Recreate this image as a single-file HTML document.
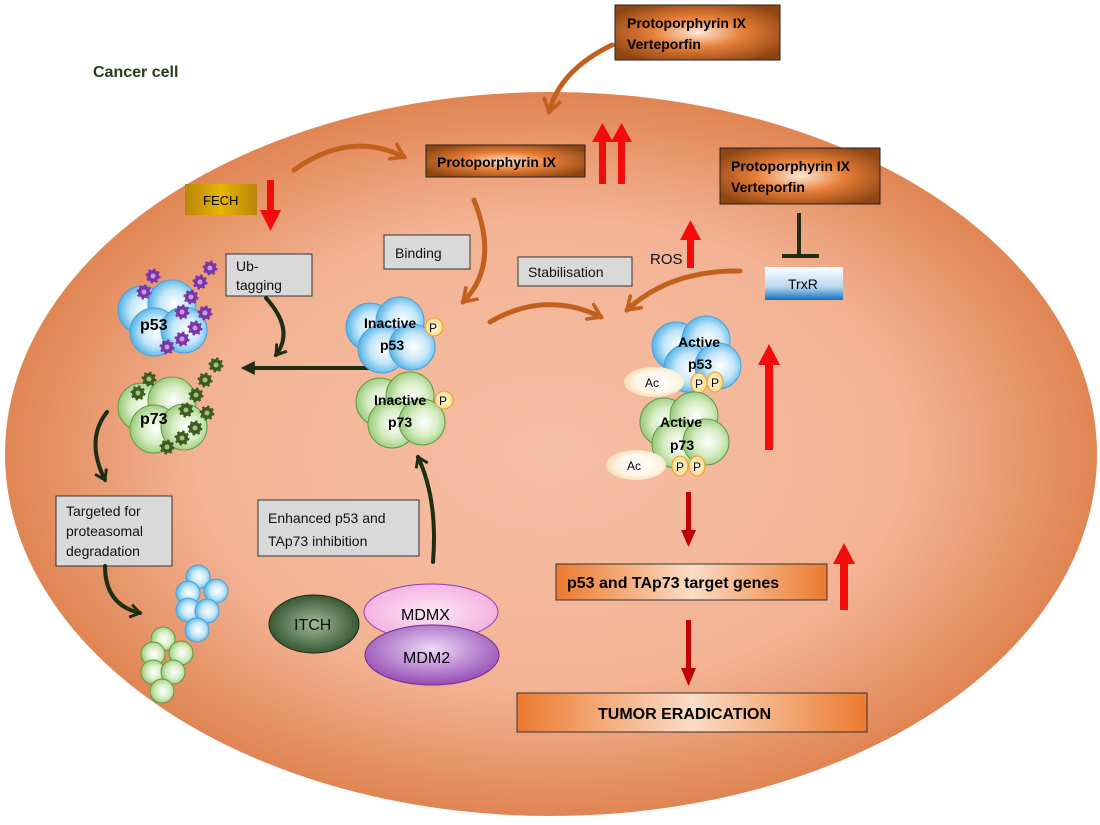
<!DOCTYPE html>
<html><head><meta charset="utf-8"><style>
html,body{margin:0;padding:0;background:#fff}
svg{display:block}
text{font-family:"Liberation Sans",sans-serif}
</style></head><body>
<svg width="1100" height="825" viewBox="0 0 1100 825" xmlns="http://www.w3.org/2000/svg">
<defs>
<radialGradient id="cell" cx="0.5" cy="0.5" r="0.5">
<stop offset="0" stop-color="#f6bea4"/><stop offset="0.65" stop-color="#f3b394"/><stop offset="1" stop-color="#e08553"/>
</radialGradient>
<radialGradient id="brown" cx="0.5" cy="0.5" r="0.6">
<stop offset="0" stop-color="#fde8d8"/><stop offset="0.45" stop-color="#e8803a"/><stop offset="1" stop-color="#8f4512"/>
</radialGradient>
<linearGradient id="org" x1="0" x2="1"><stop offset="0" stop-color="#ec7a2e"/><stop offset="0.5" stop-color="#fbdcc6"/><stop offset="1" stop-color="#ec7a2e"/></linearGradient>
<linearGradient id="gold" x1="0" x2="1"><stop offset="0" stop-color="#b8860b"/><stop offset="0.5" stop-color="#e8b400"/><stop offset="1" stop-color="#b8860b"/></linearGradient>
<linearGradient id="trx" x1="0" y1="0" x2="0" y2="1"><stop offset="0" stop-color="#fff"/><stop offset="0.6" stop-color="#b8d8ef"/><stop offset="1" stop-color="#1070c0"/></linearGradient>
<radialGradient id="blue" cx="0.55" cy="0.5" r="0.6"><stop offset="0" stop-color="#fff"/><stop offset="0.5" stop-color="#c4e6f8"/><stop offset="1" stop-color="#3aa8e4"/></radialGradient>
<radialGradient id="green" cx="0.55" cy="0.5" r="0.6"><stop offset="0" stop-color="#fff"/><stop offset="0.5" stop-color="#d6edc4"/><stop offset="1" stop-color="#8cc26a"/></radialGradient>
<radialGradient id="pyel" cx="0.5" cy="0.5" r="0.6"><stop offset="0" stop-color="#fffbe8"/><stop offset="1" stop-color="#f9d37c"/></radialGradient>
<radialGradient id="ac" cx="0.55" cy="0.5" r="0.6"><stop offset="0" stop-color="#fff"/><stop offset="0.6" stop-color="#fff5e6"/><stop offset="1" stop-color="#f5d7a3"/></radialGradient>
<radialGradient id="itch" cx="0.5" cy="0.5" r="0.6"><stop offset="0" stop-color="#a0b99a"/><stop offset="1" stop-color="#24451f"/></radialGradient>
<radialGradient id="mdmx" cx="0.5" cy="0.5" r="0.6"><stop offset="0" stop-color="#fde8f5"/><stop offset="1" stop-color="#f2a8de"/></radialGradient>
<radialGradient id="mdm2" cx="0.5" cy="0.4" r="0.65"><stop offset="0" stop-color="#eed8f5"/><stop offset="1" stop-color="#8d3fb0"/></radialGradient>
<marker id="oh" viewBox="0 0 10 10" refX="7" refY="5" markerWidth="4" markerHeight="4" orient="auto" markerUnits="strokeWidth"><path d="M1,1 L7,5 L1,9" fill="none" stroke="#c2601e" stroke-width="1.8" stroke-linecap="round"/></marker>
<marker id="gh" viewBox="0 0 10 10" refX="7" refY="5" markerWidth="4" markerHeight="4" orient="auto" markerUnits="strokeWidth"><path d="M1,1 L7,5 L1,9" fill="none" stroke="#1e2e12" stroke-width="1.8"/></marker>
<marker id="gt" viewBox="0 0 10 10" refX="2" refY="5" markerWidth="3.5" markerHeight="3.5" orient="auto" markerUnits="strokeWidth"><path d="M0,0 L10,5 L0,10 Z" fill="#1e2e12"/></marker>
<g id="gearP"><circle r="6" fill="#7a35a8"/><circle r="6" fill="none" stroke="#7a35a8" stroke-width="3" stroke-dasharray="2.2 2.5"/><circle r="2.5" fill="#c89ad8"/></g>
<g id="gearG"><circle r="6" fill="#3d5a22"/><circle r="6" fill="none" stroke="#3d5a22" stroke-width="3" stroke-dasharray="2.2 2.5"/><circle r="2.5" fill="#a3c27c"/></g>
<g id="pb"><circle cx="-18" cy="-8" r="24" fill="url(#blue)" stroke="#4aa0d8"/><circle cx="12" cy="-14" r="24" fill="url(#blue)" stroke="#4aa0d8"/><circle cx="-6" cy="14" r="24" fill="url(#blue)" stroke="#4aa0d8"/><circle cx="24" cy="12" r="23" fill="url(#blue)" stroke="#4aa0d8"/></g>
<g id="pg"><circle cx="-18" cy="-8" r="24" fill="url(#green)" stroke="#5e9a40"/><circle cx="12" cy="-14" r="24" fill="url(#green)" stroke="#5e9a40"/><circle cx="-6" cy="14" r="24" fill="url(#green)" stroke="#5e9a40"/><circle cx="24" cy="12" r="23" fill="url(#green)" stroke="#5e9a40"/></g>
</defs>

<ellipse cx="551" cy="454" rx="546" ry="362" fill="url(#cell)"/>
<text x="93" y="77" font-size="16" font-weight="bold" fill="#2d3a1a">Cancer cell</text>

<rect x="615" y="5" width="165" height="55" fill="url(#brown)" stroke="#222"/>
<text x="627" y="28" font-size="14" font-weight="bold">Protoporphyrin IX</text>
<text x="627" y="49" font-size="14" font-weight="bold">Verteporfin</text>
<rect x="426" y="145" width="159" height="32" fill="url(#brown)" stroke="#222"/>
<text x="437" y="167" font-size="14" font-weight="bold">Protoporphyrin IX</text>
<rect x="720" y="148" width="160" height="56" fill="url(#brown)" stroke="#222"/>
<text x="731" y="171" font-size="14" font-weight="bold">Protoporphyrin IX</text>
<text x="731" y="192" font-size="14" font-weight="bold">Verteporfin</text>

<g fill="#f40c0c">
<rect x="599" y="140" width="7" height="44"/><polygon points="592,142 613,142 602.5,123"/>
<rect x="618" y="140" width="7" height="44"/><polygon points="611,142 632,142 621.5,123"/>
<rect x="267" y="180" width="7" height="33"/><polygon points="260,210 281,210 270.5,231"/>
<rect x="687" y="236" width="7" height="32"/><polygon points="680,240 701,240 690.5,220"/>
<rect x="765" y="362" width="8" height="88"/><polygon points="758,365 780,365 769,344"/>
<rect x="840" y="562" width="8" height="48"/><polygon points="833,564 855,564 844,543"/>
</g>
<g fill="#c00000">
<rect x="686" y="492" width="5" height="40"/><polygon points="681,530 696,530 688.5,547"/>
<rect x="686" y="620" width="5" height="50"/><polygon points="681,668 696,668 688.5,686"/>
</g>

<rect x="185" y="184" width="72" height="31" fill="url(#gold)"/>
<text x="203" y="205" font-size="13">FECH</text>

<g fill="#d9d9d9" stroke="#333" stroke-width="1">
<rect x="226" y="254" width="86" height="42"/>
<rect x="384" y="235" width="86" height="34"/>
<rect x="518" y="257" width="114" height="29"/>
<rect x="56" y="496" width="116" height="70"/>
<rect x="258" y="500" width="161" height="56"/>
</g>
<g font-size="14" fill="#111">
<text x="236" y="271">Ub-</text><text x="236" y="290">tagging</text>
<text x="395" y="258">Binding</text>
<text x="528" y="277">Stabilisation</text>
<text x="66" y="516">Targeted for</text><text x="66" y="536">proteasomal</text><text x="66" y="556">degradation</text>
<text x="268" y="523">Enhanced p53 and</text><text x="268" y="546">TAp73  inhibition</text>
<text x="650" y="264" font-size="15">ROS</text>
</g>

<line x1="799" y1="213" x2="799" y2="256" stroke="#1e2e12" stroke-width="4"/>
<line x1="782" y1="256" x2="819" y2="256" stroke="#1e2e12" stroke-width="4"/>
<rect x="765" y="267" width="78" height="33" fill="url(#trx)"/>
<text x="788" y="289" font-size="14">TrxR</text>

<g fill="none" stroke="#c2601e" stroke-width="5" stroke-linecap="round" marker-end="url(#oh)">
<path d="M294,170 Q350,130 404,157"/>
<path d="M612,45 Q560,70 549,112"/>
<path d="M474,200 Q500,265 463,302"/>
<path d="M490,322 Q545,290 601,317"/>
<path d="M740,271 Q670,270 627,310"/>
</g>

<g fill="none" stroke="#1e2e12" stroke-width="4" stroke-linecap="round">
<path d="M374,368 L252,368" marker-end="url(#gt)"/>
<path d="M266,298 Q295,330 276,355" marker-end="url(#gh)"/>
<path d="M107,412 Q85,440 105,480" marker-end="url(#gh)"/>
<path d="M105,566 Q105,605 140,613" marker-end="url(#gh)"/>
<path d="M433,562 Q438,500 418,457" marker-end="url(#gh)"/>
</g>

<use href="#pb" x="160" y="318"/>
<text x="140" y="330" font-size="16" font-weight="bold">p53</text>
<g>
<use href="#gearP" x="153" y="276"/><use href="#gearP" x="144" y="292"/><use href="#gearP" x="210" y="268"/><use href="#gearP" x="200" y="282"/><use href="#gearP" x="191" y="297"/><use href="#gearP" x="182" y="312"/><use href="#gearP" x="205" y="313"/><use href="#gearP" x="195" y="328"/><use href="#gearP" x="182" y="339"/><use href="#gearP" x="167" y="347"/>
</g>
<use href="#pg" x="160" y="415"/>
<text x="140" y="424" font-size="16" font-weight="bold">p73</text>
<g>
<use href="#gearG" x="149" y="379"/><use href="#gearG" x="138" y="393"/><use href="#gearG" x="216" y="365"/><use href="#gearG" x="205" y="380"/><use href="#gearG" x="196" y="395"/><use href="#gearG" x="186" y="410"/><use href="#gearG" x="207" y="413"/><use href="#gearG" x="195" y="428"/><use href="#gearG" x="182" y="438"/><use href="#gearG" x="167" y="447"/>
</g>

<use href="#pb" x="388" y="335"/>
<text x="364" y="328" font-size="14" font-weight="bold">Inactive</text>
<text x="380" y="350" font-size="14" font-weight="bold">p53</text>
<circle cx="434" cy="327" r="9" fill="url(#pyel)" stroke="#e9a21e"/><text x="429" y="332" font-size="12">P</text>
<use href="#pg" x="398" y="410"/>
<text x="374" y="405" font-size="14" font-weight="bold">Inactive</text>
<text x="388" y="427" font-size="14" font-weight="bold">p73</text>
<circle cx="444" cy="400" r="9" fill="url(#pyel)" stroke="#e9a21e"/><text x="439" y="405" font-size="12">P</text>

<use href="#pb" x="694" y="354"/>
<text x="678" y="347" font-size="14" font-weight="bold">Active</text>
<text x="688" y="369" font-size="14" font-weight="bold">p53</text>
<ellipse cx="654" cy="382" rx="30" ry="15" fill="url(#ac)"/><text x="645" y="387" font-size="12">Ac</text>
<ellipse cx="699" cy="383" rx="8" ry="10" fill="url(#pyel)" stroke="#e9a21e"/><text x="695" y="388" font-size="12">P</text>
<ellipse cx="715" cy="382" rx="8" ry="10" fill="url(#pyel)" stroke="#e9a21e"/><text x="711" y="387" font-size="12">P</text>
<use href="#pg" x="682" y="430"/>
<text x="660" y="427" font-size="14" font-weight="bold">Active</text>
<text x="670" y="450" font-size="14" font-weight="bold">p73</text>
<ellipse cx="636" cy="465" rx="30" ry="15" fill="url(#ac)"/><text x="627" y="470" font-size="12">Ac</text>
<ellipse cx="680" cy="466" rx="8" ry="10" fill="url(#pyel)" stroke="#e9a21e"/><text x="676" y="471" font-size="12">P</text>
<ellipse cx="697" cy="466" rx="8" ry="10" fill="url(#pyel)" stroke="#e9a21e"/><text x="693" y="471" font-size="12">P</text>

<g fill="url(#blue)" stroke="#4aa0d8">
<circle cx="198" cy="577" r="12"/><circle cx="188" cy="593" r="12"/><circle cx="216" cy="591" r="12"/><circle cx="188" cy="610" r="12"/><circle cx="207" cy="611" r="12"/><circle cx="197" cy="630" r="12"/>
</g>
<g fill="url(#green)" stroke="#5e9a40">
<circle cx="163" cy="639" r="12"/><circle cx="153" cy="654" r="12"/><circle cx="181" cy="653" r="12"/><circle cx="153" cy="672" r="12"/><circle cx="173" cy="672" r="12"/><circle cx="162" cy="691" r="12"/>
</g>

<ellipse cx="314" cy="624" rx="45" ry="29" fill="url(#itch)" stroke="#1e2e12"/>
<text x="294" y="630" font-size="16" fill="#111">ITCH</text>
<ellipse cx="431" cy="612" rx="67" ry="28" fill="url(#mdmx)" stroke="#8d3fb0"/>
<text x="401" y="620" font-size="16">MDMX</text>
<ellipse cx="432" cy="655" rx="67" ry="30" fill="url(#mdm2)" stroke="#6a2d8a"/>
<text x="403" y="663" font-size="16">MDM2</text>

<rect x="556" y="564" width="271" height="36" fill="url(#org)" stroke="#333"/>
<text x="567" y="588" font-size="16" font-weight="bold">p53 and TAp73 target genes</text>
<rect x="517" y="693" width="350" height="39" fill="url(#org)" stroke="#333"/>
<text x="598" y="719" font-size="16" font-weight="bold">TUMOR ERADICATION</text>
</svg>
</body></html>
